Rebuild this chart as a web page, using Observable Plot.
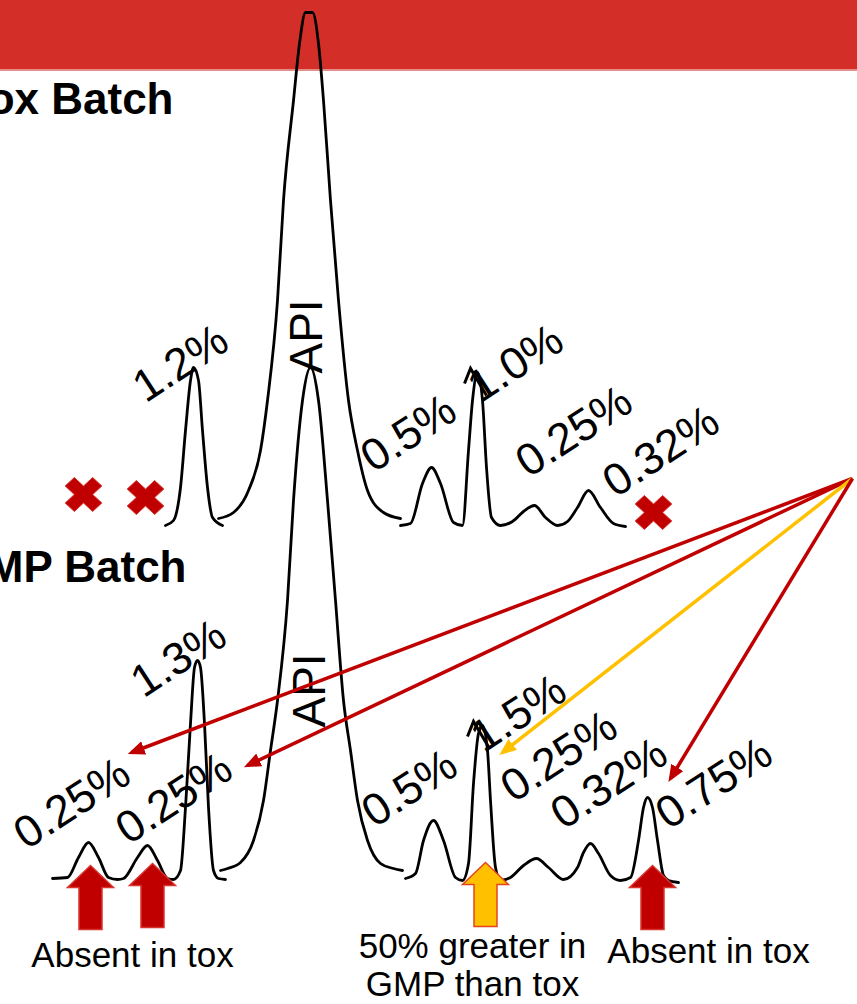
<!DOCTYPE html>
<html><head><meta charset="utf-8">
<script src="https://cdn.jsdelivr.net/npm/d3@7"></script>
<script src="https://cdn.jsdelivr.net/npm/@observablehq/plot@0.6"></script>
<style>
html,body{margin:0;padding:0;background:#fff;}
#wrap{position:relative;width:857px;height:1004px;overflow:hidden;}
#band{position:absolute;left:0;top:0;width:857px;height:69px;background:#D32E28;border-bottom:2px solid #E38E8A;}
#chart{position:absolute;left:0;top:0;}
</style></head><body>
<div id="wrap"><div id="band"></div><div id="chart"></div></div>
<script>
// Retention time (s) and detector signal (mAU).
// Tox batch trace, three drawn segments
const toxA_t = [330,346,360,370,380,386,396,404,414,424,444];
const toxA_s = [0,10,76,190,290,316,290,190,76,16,0];
const toxB_t = [436,466,496,520,534,554,566,586,598,610,624,636,646,660,676,696,714,734,766,800];
const toxB_s = [14,26,70,150,250,450,650,850,964,1026,1026,964,850,650,450,250,150,70,26,14];
const toxC_t = [800,820,844,862,880,906,924,936,944,954,964,972,982,1000,1024,1046,1068,1090,1114,1134,1154,1176,1200,1226,1250];
const toxC_s = [0,4,84,116,84,6,0,150,250,306,250,116,16,0,8,28,40,16,0,8,36,70,36,4,-2];
// GMP batch trace, three drawn segments
const gmpA_t = [104,134,156,176,196,216,234,246,274,294,314,334,346,360,370,380,388,394,400,408,416,426,436,450];
const gmpA_s = [0,2,42,72,42,2,-2,0,42,66,36,0,-2,16,142,310,422,436,422,310,142,16,0,-2];
const gmpB_t = [440,454,480,506,526,540,554,574,586,604,620,636,654,670,686,700,714,734,760,786,804];
const gmpB_s = [16,20,32,76,156,256,356,556,756,956,1022,956,756,556,356,256,156,76,30,20,16];
const gmpC_t = [810,830,846,866,886,910,924,936,946,956,964,974,980,990,1000,1020,1046,1072,1096,1126,1154,1166,1180,1196,1220,1240,1260,1276,1286,1294,1304,1314,1326,1336,1356];
const gmpC_s = [0,10,76,116,76,2,-4,30,190,290,306,256,156,22,-4,2,26,40,22,-2,22,52,70,50,6,-4,2,76,142,162,142,76,6,-4,-8];
const toxOffset = 706; // vertical offset of the stacked tox trace (mAU)

// Peak area labels
const toxLabels = ["1.2%","0.5%","1.0%","0.25%","0.32%"];
const toxLabelT = [290,746,960,1056,1230];
const toxLabelS = [244,104,244,94,54];
const gmpLabels = ["0.25%","0.25%","1.3%","0.5%","1.5%","0.25%","0.32%","0.75%"];
const gmpLabelT = [52,256,286,748,966,1026,1126,1336];
const gmpLabelS = [56,66,360,100,250,150,96,96];
const apiT = [642,648];
const apiS = [304 + toxOffset, 302];
// Titles
const titles = ["Tox Batch","GMP Batch"];
const titleT = [346,372];
const titleS = [1530,594];
// Peaks missing in the tox batch
const absentT = [166,290,1306];
const absentS = [62,56,26];
// Peak tops marked with an arrowhead
const arrowTopT = [940,946];
const arrowTopS = [314 + toxOffset,314];
// Block arrows under GMP peaks
const blockT = [180,304,970,1304];
const blockS = [26,30,32,26];
const blockKind = ["absent","absent","greater","absent"];
// Callout texts
const calloutText = ["Absent in tox","50% greater in\nGMP than tox","Absent in tox"];
const calloutT = [264,944,1416];
const calloutS = [-176,-234,-168];
// Callout arrows from the right edge
const linkFromT = [1704,1704,1704,1704];
const linkFromS = [800,800,800,800];
const linkToT = [262,494,1004,1340];
const linkToS = [252,226,252,200];
const linkKind = ["absent","absent","greater","absent"];

const RED = "#C00000", YEL = "#FFC000";
const segRows = (ts, ss, seg, off = 0) => ts.map((t, i) => ({t, s: ss[i] + off, seg}));
const tox = [...segRows(toxA_t,toxA_s,"a",toxOffset), ...segRows(toxB_t,toxB_s,"b",toxOffset), ...segRows(toxC_t,toxC_s,"c",toxOffset)];
const gmp = [...segRows(gmpA_t,gmpA_s,"a"), ...segRows(gmpB_t,gmpB_s,"b"), ...segRows(gmpC_t,gmpC_s,"c")];
const labels = [
  ...toxLabels.map((text,i)=>({text,t:toxLabelT[i],s:toxLabelS[i]+toxOffset})),
  ...gmpLabels.map((text,i)=>({text,t:gmpLabelT[i],s:gmpLabelS[i]}))
];
const absent = absentT.map((t,i)=>({t, s: absentS[i] + toxOffset}));
const blocks = blockT.map((t,i)=>({t, s: blockS[i], kind: blockKind[i]}));
const links = linkFromT.map((t,i)=>({t1:t, s1:linkFromS[i], t2:linkToT[i], s2:linkToS[i], kind: linkKind[i]}));

const xSymbol = {draw(ctx){
  const a = 18, w = 6, k = Math.SQRT1_2;
  const p = [[-w,-a],[w,-a],[w,-w],[a,-w],[a,w],[w,w],[w,a],[-w,a],[-w,w],[-a,w],[-a,-w],[-w,-w]];
  p.forEach(([x,y],i)=>{const X=(x-y)*k*1.08, Y=(x+y)*k; i?ctx.lineTo(X,Y):ctx.moveTo(X,Y);});
  ctx.closePath();
}};
const blockSymbol = {draw(ctx){
  const hw=23, hh=22, sw=11.5, len=64;
  ctx.moveTo(0,0); ctx.lineTo(hw,hh); ctx.lineTo(sw,hh); ctx.lineTo(sw,len);
  ctx.lineTo(-sw,len); ctx.lineTo(-sw,hh); ctx.lineTo(-hw,hh); ctx.closePath();
}};
const veeSymbol = {draw(ctx){ ctx.moveTo(-6,15); ctx.lineTo(0,0); ctx.lineTo(16,27); }};
const headMarker = (color) => d3.create("svg:marker")
  .attr("viewBox","0 -7 17 14").attr("refX",13).attr("refY",0)
  .attr("markerWidth",17).attr("markerHeight",14)
  .attr("markerUnits","userSpaceOnUse").attr("orient","auto")
  .call(m => m.append("path").attr("d","M0,-7L17,0L0,7Z").attr("fill",color).attr("stroke","none"))
  .node();

function build(marker){
  const kindColor = (d) => d.kind === "greater" ? YEL : RED;
  return Plot.plot({
    width: 857, height: 1004,
    marginTop: 0, marginRight: 0, marginBottom: 0, marginLeft: 0,
    x: {domain: [0, 1714], range: [0, 857], axis: null},
    y: {domain: [-252, 1756], range: [1004, 0], axis: null},
    style: {background: "transparent", fontFamily: "'Liberation Sans', Arial, sans-serif", overflow: "visible"},
    marks: [
      Plot.line(tox, {x: "t", y: "s", z: "seg", curve: "monotone-x", stroke: "black", strokeWidth: 2.8}),
      Plot.line(gmp, {x: "t", y: "s", z: "seg", curve: "monotone-x", stroke: "black", strokeWidth: 2.8}),
      Plot.text(labels, {x: "t", y: "s", text: "text", rotate: -33, textAnchor: "start", lineAnchor: "bottom", fontSize: 45, fill: "black"}),
      Plot.text(["API","API"], {x: apiT, y: apiS, text: (d)=>d, rotate: -90, textAnchor: "start", lineAnchor: "bottom", fontSize: 46, fill: "black"}),
      Plot.text(titles, {x: titleT, y: titleS, text: (d)=>d, textAnchor: "end", lineAnchor: "bottom", fontSize: 44, fontWeight: "bold", fill: "black"}),
      Plot.text(calloutText, {x: calloutT, y: calloutS, text: (d)=>d, textAnchor: "middle", lineAnchor: "bottom", fontSize: 35, lineHeight: 1.06, fill: "black"}),
      Plot.dot(absent, {x: "t", y: "s", symbol: xSymbol, fill: RED, stroke: "#D8332C", strokeWidth: 1}),
      Plot.dot(blocks, {x: "t", y: "s", symbol: blockSymbol, fill: kindColor, stroke: (d)=> d.kind === "greater" ? "#E2451E" : "#D8332C", strokeWidth: 1.5}),
      Plot.link(links, {x1: "t1", y1: "s1", x2: "t2", y2: "s2", stroke: kindColor, strokeWidth: 3.5, markerEnd: marker}),
      Plot.dot(arrowTopT, {x: arrowTopT, y: arrowTopS, symbol: veeSymbol, fill: "none", stroke: "black", strokeWidth: 3, strokeLinejoin: "miter"})
    ]
  });
}
let chart;
try { chart = build(headMarker); } catch (e) { chart = build("arrow"); }
document.getElementById("chart").appendChild(chart);
</script></body></html>
